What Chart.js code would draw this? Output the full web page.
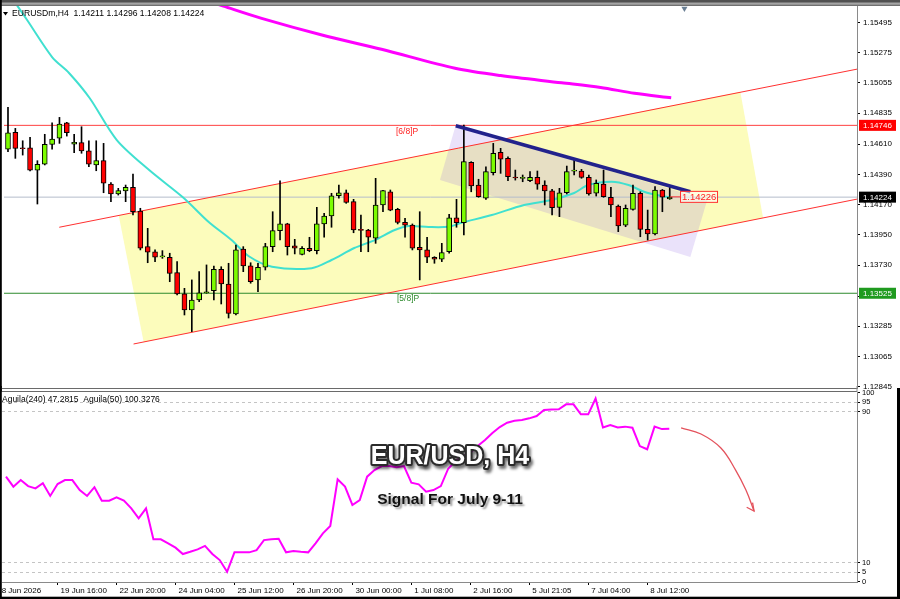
<!DOCTYPE html>
<html>
<head>
<meta charset="utf-8">
<title>EURUSDm, H4</title>
<script src="https://cdn.jsdelivr.net/npm/chart.js@4.4.1/dist/chart.umd.min.js"></script>
<style>
  html, body { margin: 0; padding: 0; background: #fff; }
  #wrap { position: relative; width: 900px; height: 599px; overflow: hidden; }
  #wrap canvas { position: absolute; left: 0; }
  #main { top: 0; }
  #ind { top: 386px; }
</style>
</head>
<body>
<div id="wrap">
  <canvas id="main" width="900" height="392"></canvas>
  <canvas id="ind" width="900" height="213"></canvas>
</div>
<script>
// ─── Data ───
const headerText = 'EURUSDm,H4  1.14211 1.14296 1.14208 1.14224';
const indHeaderText = 'Aguila(240) 47.2815  Aguila(50) 100.3276';
const titleText = 'EUR/USD, H4';
const subtitleText = 'Signal For July 9-11';

const xTickIdx = [-1, 7, 15, 23, 31, 39, 47, 55, 63, 71, 79, 87];
const xTickLabels = ['8 Jun 2026', '19 Jun 16:00', '22 Jun 20:00', '24 Jun 04:00', '25 Jun 12:00', '26 Jun 20:00',
  '30 Jun 00:00', '1 Jul 08:00', '2 Jul 16:00', '5 Jul 21:05', '7 Jul 04:00', '8 Jul 12:00'];
const priceTicks = [1.12845, 1.13065, 1.13285, 1.13505, 1.13730, 1.13950, 1.14170, 1.14390, 1.14610, 1.14835, 1.15055, 1.15275, 1.15495];
const indTicks = [0, 5, 10, 90, 95, 100];
const indDashed = [5, 10, 90, 95];

// H4 candles, one per bar index 0..90
const open = [1.14572, 1.14695, 1.14582, 1.14583, 1.14421, 1.14463, 1.14608, 1.14652, 1.14765, 1.14610,
  1.14620, 1.14561, 1.14458, 1.14489, 1.14319, 1.14247, 1.14269, 1.14295, 1.14123, 1.13864,
  1.13827, 1.13789, 1.13787, 1.13675, 1.13520, 1.13403, 1.13476, 1.13529, 1.13544, 1.13699,
  1.13592, 1.13374, 1.13847, 1.13725, 1.13622, 1.13714, 1.13864, 1.13980, 1.14029, 1.13869,
  1.13808, 1.13852, 1.13835, 1.14029, 1.14087, 1.14234, 1.14256, 1.14191, 1.13988, 1.13985,
  1.13925, 1.14167, 1.14263, 1.14135, 1.14041, 1.14021, 1.13859, 1.13840, 1.13787, 1.13772,
  1.13827, 1.14074, 1.14038, 1.14477, 1.14312, 1.14216, 1.14402, 1.14550, 1.14506, 1.14367,
  1.14360, 1.14343, 1.14368, 1.14312, 1.14269, 1.14150, 1.14256, 1.14413, 1.14414, 1.14368,
  1.14252, 1.14319, 1.14223, 1.14159, 1.14021, 1.14135, 1.14252, 1.13990, 1.13956, 1.14276, 1.14211];
const high = [1.14877, 1.14724, 1.14634, 1.14659, 1.14489, 1.14681, 1.14765, 1.14804, 1.14768, 1.14681,
  1.14736, 1.14634, 1.14634, 1.14615, 1.14329, 1.14288, 1.14312, 1.14392, 1.14143, 1.13997,
  1.13840, 1.13835, 1.13816, 1.13755, 1.13561, 1.13622, 1.13682, 1.13731, 1.13723, 1.13718,
  1.13743, 1.13876, 1.13864, 1.13747, 1.13743, 1.13888, 1.14118, 1.14343, 1.14034, 1.13917,
  1.13864, 1.13932, 1.14150, 1.14106, 1.14252, 1.14312, 1.14276, 1.14208, 1.14094, 1.13990,
  1.14361, 1.14273, 1.14276, 1.14143, 1.14070, 1.14029, 1.14118, 1.13932, 1.13791, 1.13888,
  1.14099, 1.14208, 1.14748, 1.14482, 1.14354, 1.14445, 1.14615, 1.14579, 1.14518, 1.14421,
  1.14385, 1.14409, 1.14414, 1.14343, 1.14281, 1.14288, 1.14450, 1.14494, 1.14426, 1.14385,
  1.14349, 1.14421, 1.14295, 1.14167, 1.14167, 1.14312, 1.14263, 1.14130, 1.14300, 1.14280, 1.14296];
const low = [1.14554, 1.14506, 1.14530, 1.14414, 1.14174, 1.14458, 1.14572, 1.14615, 1.14668, 1.14547,
  1.14543, 1.14445, 1.14416, 1.14256, 1.14191, 1.14239, 1.14191, 1.14094, 1.13840, 1.13747,
  1.13755, 1.13779, 1.13609, 1.13512, 1.13367, 1.13246, 1.13464, 1.13525, 1.13476, 1.13447,
  1.13345, 1.13367, 1.13682, 1.13598, 1.13536, 1.13694, 1.13827, 1.13912, 1.13803, 1.13811,
  1.13803, 1.13827, 1.13811, 1.13932, 1.14005, 1.14216, 1.14179, 1.13965, 1.13827, 1.13827,
  1.13888, 1.14118, 1.14125, 1.14029, 1.13932, 1.13840, 1.13622, 1.13747, 1.13743, 1.13755,
  1.13816, 1.14005, 1.13949, 1.14263, 1.14223, 1.14208, 1.14385, 1.14397, 1.14343, 1.14348,
  1.14336, 1.14336, 1.14281, 1.14167, 1.14094, 1.14082, 1.14247, 1.14385, 1.14361, 1.14239,
  1.14232, 1.14223, 1.14082, 1.13973, 1.14009, 1.14130, 1.13936, 1.13912, 1.13949, 1.14118, 1.14208];
const close = [1.14692, 1.14579, 1.14576, 1.14421, 1.14463, 1.14608, 1.14647, 1.14756, 1.14692, 1.14623,
  1.14561, 1.14463, 1.14489, 1.14325, 1.14247, 1.14271, 1.14295, 1.14118, 1.13852, 1.13823,
  1.13787, 1.13793, 1.13670, 1.13520, 1.13403, 1.13476, 1.13529, 1.13536, 1.13699, 1.13592,
  1.13379, 1.13840, 1.13723, 1.13609, 1.13714, 1.13864, 1.13980, 1.14029, 1.13864, 1.13852,
  1.13852, 1.13835, 1.14029, 1.14087, 1.14234, 1.14256, 1.14186, 1.13985, 1.13982, 1.13932,
  1.14167, 1.14271, 1.14130, 1.14041, 1.14021, 1.13852, 1.13840, 1.13787, 1.13772, 1.13820,
  1.14074, 1.14038, 1.14482, 1.14305, 1.14227, 1.14409, 1.14543, 1.14501, 1.14372, 1.14363,
  1.14363, 1.14368, 1.14319, 1.14269, 1.14147, 1.14256, 1.14409, 1.14416, 1.14368, 1.14247,
  1.14325, 1.14227, 1.14167, 1.14014, 1.14143, 1.14252, 1.13990, 1.13956, 1.14276, 1.14223, 1.14224];

// moving averages, read at bar positions
const maFastIdx = [0, 2.6, 6, 8.3, 11.1, 14.8, 19.2, 23.9, 27.3, 30.4, 32.7, 35.9, 41.3, 44, 47.1, 49.9,
  52.6, 54.5, 57.2, 59.9, 61.7, 65.8, 70.2, 73.9, 77, 78.9, 82.1, 84.4, 86.5, 88.9, 90.2];
const maFastVal = [1.15715, 1.15512, 1.15243, 1.15127, 1.14945, 1.14639, 1.14421, 1.14218, 1.14043, 1.13912,
  1.13796, 1.13718, 1.13707, 1.13767, 1.13854, 1.13912, 1.13985, 1.14014, 1.14007, 1.14009, 1.14038,
  1.14094, 1.14167, 1.14203, 1.14254, 1.14312, 1.14336, 1.14312, 1.14263, 1.14232, 1.14223];
const maSlowIdx = [28.0, 29.3, 34.5, 42.7, 50.8, 60.8, 67.0, 75.3, 80.6, 85.2, 90.2];
const maSlowVal = [1.15636, 1.15613, 1.15524, 1.15403, 1.15299, 1.15161, 1.15108, 1.15056, 1.15022, 1.14979, 1.14947];

// drawn objects
const lvl68 = 1.14746;
const lvl58 = 1.13525;
const bidPrice = 1.14224;
const levelSpan = [-1, 117];
const chanUpIdx = [6.97, 117], chanUpVal = [1.14005, 1.15171];
const chanLoIdx = [17.08, 117], chanLoVal = [1.13156, 1.14226];
const boxIdx = [15.06, 99.6, 102.7, 18.45, 15.06], boxVal = [1.14091, 1.14991, 1.14072, 1.13171, 1.14091];
const zoneIdx = [60.9, 95.1, 92.8, 58.75, 60.9], zoneVal = [1.14748, 1.14203, 1.13789, 1.14349, 1.14748];
const trendIdx = [60.9, 92.8], trendVal = [1.14743, 1.14263];
const priceLabel = 1.14226;
const priceLabelIdx = [90, 91.4];
const shiftMarkIdx = [92], shiftMarkVal = [1.15595];

// Aguila oscillator, one per bar
const aguila = [55.6, 50.3, 53.8, 50.6, 49.4, 52.1, 45.4, 51.7, 53.8, 53.8,
  48.5, 45.4, 50.0, 42.9, 42.9, 44.7, 42.9, 38.8, 33.5, 38.8,
  22.4, 22.4, 20.3, 18.0, 14.6, 15.8, 17.1, 18.9, 14.6, 11.4,
  5.2, 15.5, 15.5, 15.5, 16.7, 22.0, 22.4, 22.7, 15.5, 16.2,
  15.8, 15.5, 20.3, 25.6, 29.5, 54.2, 50.3, 40.6, 43.2, 55.6,
  59.1, 61.2, 61.2, 60.6, 61.2, 52.4, 51.5, 47.6, 48.5, 50.6,
  59.8, 63.9, 66.5, 68.3, 71.8, 75.0, 78.7, 81.9, 84.2, 85.2,
  85.6, 86.5, 87.7, 90.9, 91.2, 91.3, 93.9, 93.9, 88.6, 88.6,
  97.0, 81.7, 83.0, 81.7, 82.1, 81.5, 71.8, 70.1, 82.1, 80.8, 81.0];
const arrowIdx = [91.6, 94.3, 97.0, 99.0, 100.4, 101.5], arrowVal = [81.5, 78.2, 70.8, 59.1, 48.5, 37.4];
const arrowHeadIdx = [100.5, 101.5, 101.3], arrowHeadVal = [39.4, 37.4, 41.8];

// axis ranges
const xMin = -0.543, xMax = 115.47;
const yMin = 1.12836, yMax = 1.15614;
const indMin = -0.21, indMax = 100.45;

// ─── Helpers ───
Chart.defaults.font.family = '"Liberation Sans", Arial, sans-serif';
const pts = (xs, ys) => xs.map((x, k) => ({ x, y: ys[k] }));
const lineDs = (label, xs, ys, color, width, order, extra = {}) => ({
  type: 'line', label, data: pts(xs, ys), borderColor: color, borderWidth: width,
  pointRadius: 0, tension: 0, fill: false, order, ...extra,
});
const polyDs = (label, xs, ys, color, order) => ({
  type: 'line', label, data: pts(xs, ys), borderWidth: 0, borderColor: 'rgba(0,0,0,0)',
  backgroundColor: color, fill: 'shape', pointRadius: 0, tension: 0, order,
});
const barIdx = open.map((_, i) => i);
const wickData = barIdx.map(i => ({ x: i, y: [low[i], high[i]] }));
const bodyData = barIdx.map(i => ({ x: i, y: [open[i], close[i]] }));
const bodyColors = barIdx.map(i => close[i] >= open[i] ? '#7cfc00' : '#ff0000');

const base = {
  responsive: false, animation: false, devicePixelRatio: 1, events: [],
  plugins: { legend: { display: false }, tooltip: { enabled: false } },
};

// ─── Main panel decorations ───
const mainDecor = {
  id: 'mainDecor',
  beforeDraw(chart) {
    const { ctx } = chart;
    ctx.save(); ctx.fillStyle = '#fff'; ctx.fillRect(0, 0, 900, 392); ctx.restore();
  },
  afterDraw(chart) {
    const { ctx, chartArea: a, scales: { x, y } } = chart;
    ctx.save();
    ctx.fillStyle = '#a4a4a4'; ctx.fillRect(0, 0, 900, 6);
    ctx.fillStyle = '#505050'; ctx.fillRect(0, 0, 900, 2.5);
    ctx.fillStyle = '#707070'; ctx.fillRect(0, 4.7, 900, 1.3);
    ctx.fillStyle = '#000'; ctx.fillRect(0, 0, 1.8, 392);
    ctx.fillStyle = '#6a6a6a';
    ctx.fillRect(0, 388, a.right, 1); ctx.fillRect(0, 391, a.right, 1);
    ctx.fillStyle = '#8a8a8a'; ctx.fillRect(a.right - 0.5, 386, 1, 6);

    // symbol header
    ctx.fillStyle = '#000';
    ctx.beginPath(); ctx.moveTo(3, 12); ctx.lineTo(8, 12); ctx.lineTo(5.5, 15.5); ctx.closePath(); ctx.fill();
    ctx.font = '8.6px "Liberation Sans", Arial, sans-serif';
    ctx.textBaseline = 'middle'; ctx.textAlign = 'left';
    ctx.fillText(headerText, 12, 14);

    // level captions
    ctx.font = '8.5px "Liberation Sans", Arial, sans-serif';
    ctx.textBaseline = 'top';
    ctx.fillStyle = '#ff2020'; ctx.fillText('[6/8]P', 396, y.getPixelForValue(lvl68) + 2);
    ctx.fillStyle = '#2e8b2e'; ctx.fillText('[5/8]P', 397, y.getPixelForValue(lvl58) + 1.5);

    // price label box
    const bx = x.getPixelForValue(priceLabelIdx[1]);
    const by = y.getPixelForValue(priceLabel);
    ctx.fillStyle = 'rgba(255,255,255,0.55)'; ctx.fillRect(bx, by - 5.5, 37, 11);
    ctx.strokeStyle = '#ff3030'; ctx.lineWidth = 1; ctx.strokeRect(bx + 0.5, by - 5.5, 37, 11);
    ctx.fillStyle = '#ff2020'; ctx.font = '9.5px "Liberation Sans", Arial, sans-serif';
    ctx.textBaseline = 'middle'; ctx.fillText(priceLabel.toFixed(5), bx + 2, by + 0.5);

    // axis badges
    const badge = (price, bg) => {
      const py = y.getPixelForValue(price);
      ctx.fillStyle = bg; ctx.fillRect(a.right + 2, py - 5.5, 37, 11);
      ctx.fillStyle = '#fff'; ctx.font = '8px "Liberation Sans", Arial, sans-serif';
      ctx.textBaseline = 'middle'; ctx.fillText(price.toFixed(5), a.right + 6, py + 0.5);
    };
    badge(lvl68, '#ff0000');
    badge(bidPrice, '#000000');
    badge(lvl58, '#1f9a1f');
    ctx.restore();
  },
};

new Chart(document.getElementById('main'), {
  type: 'line',
  data: {
    datasets: [
      polyDs('channel box', boxIdx, boxVal, 'rgb(252,252,188)', 20),
      polyDs('triangle zone', zoneIdx, zoneVal, 'rgba(150,110,230,0.2)', 19),
      lineDs('bid', levelSpan, [bidPrice, bidPrice], '#b4bccb', 1, 16),
      lineDs('[6/8]P', levelSpan, [lvl68, lvl68], '#ff4040', 1, 15),
      lineDs('[5/8]P', levelSpan, [lvl58, lvl58], '#2e8b2e', 1, 15),
      lineDs('channel up', chanUpIdx, chanUpVal, '#ff3030', 1, 14),
      lineDs('channel low', chanLoIdx, chanLoVal, '#ff3030', 1, 14),
      lineDs('MA slow', maSlowIdx, maSlowVal, '#ff00ff', 3, 12, { tension: 0.3 }),
      lineDs('MA fast', maFastIdx, maFastVal, 'rgb(64,224,208)', 2, 11, { tension: 0.3 }),
      { type: 'bar', label: 'wicks', data: wickData, backgroundColor: '#000', barThickness: 1, grouped: false, order: 4 },
      { type: 'bar', label: 'bodies', data: bodyData, backgroundColor: bodyColors, borderColor: '#000', borderWidth: 1,
        borderSkipped: false, barThickness: 5, minBarLength: 1, grouped: false, order: 3 },
      lineDs('trend', trendIdx, trendVal, '#22228c', 3.5, 2),
      lineDs('price label', priceLabelIdx, [priceLabel, priceLabel], '#ff3030', 1, 1),
      lineDs('shift', shiftMarkIdx, shiftMarkVal, '#6a7f94', 0, 0, {
        showLine: false, pointRadius: 3.5, pointStyle: 'triangle', rotation: 180, pointBackgroundColor: '#6a7f94', pointBorderWidth: 0,
      }),
    ],
  },
  options: {
    ...base,
    layout: { padding: { left: 2, top: 6, right: 0, bottom: 4 } },
    scales: {
      x: { type: 'linear', display: false, min: xMin, max: xMax, offset: false, grid: { offset: false } },
      y: {
        type: 'linear', position: 'right', min: yMin, max: yMax, bounds: 'data',
        afterBuildTicks: s => { s.ticks = priceTicks.map(v => ({ value: v })); },
        afterFit: s => { s.width = 43; s.paddingTop = 0; s.paddingBottom = 0; },
        ticks: { callback: v => v.toFixed(5), color: '#000', font: { size: 8 }, padding: 3, autoSkip: false },
        grid: { drawOnChartArea: false, tickLength: 3, tickColor: '#000' },
        border: { display: true, color: '#8a8a8a', width: 1 },
      },
    },
  },
  plugins: [mainDecor],
});

// ─── Indicator panel ───
const indDecor = {
  id: 'indDecor',
  beforeDraw(chart) {
    const { ctx } = chart;
    ctx.save(); ctx.fillStyle = '#fff'; ctx.fillRect(0, 6, 900, 207); ctx.restore();
  },
  afterDraw(chart) {
    const { ctx } = chart;
    ctx.save();
    ctx.fillStyle = '#000';
    ctx.fillRect(0, 0, 1.8, 213);
    ctx.fillRect(897, 2, 3, 211);
    ctx.fillRect(0, 210.7, 900, 2.3);

    ctx.font = '8.5px "Liberation Sans", Arial, sans-serif';
    ctx.textBaseline = 'middle'; ctx.textAlign = 'left';
    ctx.fillText(indHeaderText, 2, 14);

    ctx.textAlign = 'center';
    ctx.font = 'bold 25px "Liberation Sans", Arial, sans-serif';
    ctx.lineJoin = 'round';
    ctx.shadowColor = 'rgba(0,0,0,0.55)'; ctx.shadowOffsetX = 2; ctx.shadowOffsetY = 3; ctx.shadowBlur = 3;
    ctx.strokeStyle = '#2b2b2b'; ctx.lineWidth = 4;
    ctx.strokeText(titleText, 450, 71);
    ctx.shadowColor = 'rgba(0,0,0,0)';
    ctx.fillStyle = '#fff'; ctx.fillText(titleText, 450, 71);

    ctx.font = 'bold 15.5px "Liberation Sans", Arial, sans-serif';
    ctx.shadowColor = 'rgba(0,0,0,0.4)'; ctx.shadowOffsetX = 2; ctx.shadowOffsetY = 2; ctx.shadowBlur = 2;
    ctx.fillStyle = '#111'; ctx.fillText(subtitleText, 450, 114);
    ctx.restore();
  },
};

new Chart(document.getElementById('ind'), {
  type: 'line',
  data: {
    datasets: [
      lineDs('Aguila', barIdx, aguila, '#ff00ff', 2, 3),
      lineDs('arrow', arrowIdx, arrowVal, '#e4525c', 1.3, 2, { tension: 0.4 }),
      lineDs('arrow head', arrowHeadIdx, arrowHeadVal, '#e4525c', 1.3, 1),
    ],
  },
  options: {
    ...base,
    layout: { padding: { left: 2, top: 6, right: 0, bottom: 0 } },
    scales: {
      x: {
        type: 'linear', min: xMin, max: xMax, offset: false, bounds: 'data',
        afterBuildTicks: s => { s.ticks = xTickIdx.map(v => ({ value: v })); },
        afterFit: s => { s.height = 17; s.paddingLeft = 0; s.paddingRight = 0; },
        ticks: { callback: (v, i) => xTickLabels[i], align: 'start', labelOffset: 3, maxRotation: 0, minRotation: 0,
          autoSkip: false, padding: 1, color: '#000', font: { size: 8 } },
        grid: { drawOnChartArea: false, tickLength: 3, tickColor: '#000', offset: false },
        border: { display: true, color: '#8a8a8a', width: 1 },
      },
      y: {
        type: 'linear', position: 'right', min: indMin, max: indMax, bounds: 'data',
        afterBuildTicks: s => { s.ticks = indTicks.map(v => ({ value: v })); },
        afterFit: s => { s.width = 43; s.paddingTop = 0; s.paddingBottom = 0; },
        ticks: { color: '#000', font: { size: 7.5 }, padding: 2, autoSkip: false },
        grid: {
          color: c => (c.tick && indDashed.includes(c.tick.value)) ? '#c4c4c4' : 'rgba(0,0,0,0)',
          tickLength: 3, tickColor: '#000',
        },
        border: { display: true, color: '#8a8a8a', width: 1, dash: [3, 3] },
      },
    },
  },
  plugins: [indDecor],
});
</script>
</body>
</html>
